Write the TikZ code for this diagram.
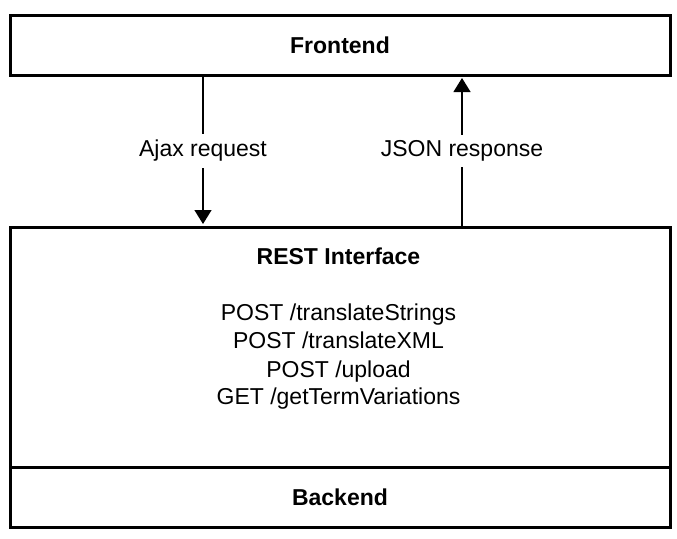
\documentclass[tikz,border=0pt]{standalone}
\usepackage{fontspec}
\setmainfont{Liberation Sans}
\usetikzlibrary{arrows.meta}
\tikzset{
  box/.style={draw=black, line width=3pt, minimum width=660pt, inner sep=0pt, anchor=north west, font=\fontsize{23}{28}\selectfont\bfseries},
  txt/.style={anchor=base, inner sep=0pt, font=\fontsize{23}{28}\selectfont},
  arr/.style={draw=black, line width=1.3pt, -{Triangle[width=17pt,length=14pt]}, shorten >=1.5pt},
  lbl/.style={fill=white, inner sep=6pt, font=\fontsize{23}{28}\selectfont}
}
\begin{document}
\begin{tikzpicture}[x=1pt,y=-1pt]
\useasboundingbox (0,0) rectangle (677,538);
\node[box, minimum height=59.5pt] (frontend) at (8.5,14) {Frontend};
\node[box, minimum height=240pt] (rest) at (8.5,225.5) {};
\node[box, minimum height=60pt] (backend) at (8.5,465.5) {Backend};
\node[txt, font=\fontsize{23}{28}\selectfont\bfseries] (title) at (338.5,264) {REST Interface};
\node[txt] (m1) at (338.5,320) {POST /translateStrings};
\node[txt] (m2) at (338.5,348) {POST /translateXML};
\node[txt] (m3) at (338.5,377) {POST /upload};
\node[txt] (m4) at (338.5,404) {GET /getTermVariations};
\coordinate (ax) at (203,0);
\coordinate (jx) at (462,0);
\draw[arr] (frontend.south -| ax) -- node[lbl] (ajax) {Ajax request} (rest.north -| ax);
\draw[arr] (rest.north -| jx) -- node[lbl] (json) {JSON response} (frontend.south -| jx);
\end{tikzpicture}
\end{document}
